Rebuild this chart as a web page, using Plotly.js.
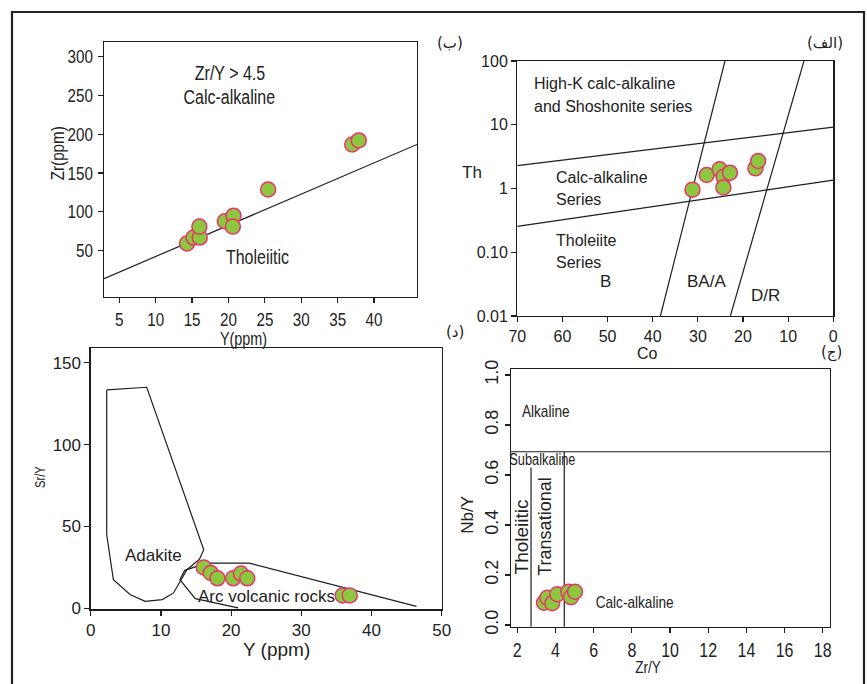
<!DOCTYPE html>
<html>
<head>
<meta charset="utf-8">
<script src="https://cdn.plot.ly/plotly-3.0.1.min.js"></script>
<style>html,body{margin:0;padding:0;background:#fff}#chart{width:867px;height:684px}</style>
</head>
<body>
<div id="chart"></div>
<script>
// ---------- Panel (ب): Zr vs Y ----------
const p1_Y  = [14.3, 15.2, 16.05, 16.0, 19.5, 20.7, 20.6, 25.45, 37.0, 37.9];
const p1_Zr = [59, 66.7, 66.7, 80.8, 87.7, 94.9, 80.8, 128.7, 186.8, 192];
const p1_lineY  = [2.9, 45.9];
const p1_lineZr = [13.7, 186.8];
const p1_xticks = [5, 10, 15, 20, 25, 30, 35, 40];
const p1_yticks = [50, 100, 150, 200, 250, 300];

// ---------- Panel (الف): Th vs Co ----------
const p2_Co = [31.2, 28.05, 25.2, 24.3, 22.9, 24.35, 17.25, 16.65];
const p2_Th = [0.96, 1.63, 2.0, 1.53, 1.77, 1.04, 2.07, 2.7];
const p2_upperCo = [70, 0];
const p2_upperTh = [2.28, 9.2];
const p2_lowerCo = [70, 0];
const p2_lowerTh = [0.255, 1.35];
const p2_steep1Co = [24.0, 38.3];
const p2_steep1Th = [100, 0.01];
const p2_steep2Co = [6.5, 22.8];
const p2_steep2Th = [100, 0.01];
const p2_xticks = [70, 60, 50, 40, 30, 20, 10, 0];
const p2_yticks = [0.01, 0.1, 1, 10, 100];
const p2_yticktext = ['0.01', '0.10', '1', '10', '100'];

// ---------- Panel (د): Sr/Y vs Y ----------
const p3_Y   = [16.1, 17.1, 18.06, 20.3, 21.4, 22.3, 35.9, 36.9];
const p3_SrY = [25, 21.6, 18.3, 18.3, 21.2, 18.3, 7.9, 7.9];
const p3_adakX = [2.28, 7.98, 16.1, 15.5, 13.7, 11.8, 10.2, 7.75, 5.6, 3.23, 2.28, 2.28];
const p3_adakY = [133.4, 135, 35.8, 30, 23.6, 9.4, 5.3, 4.3, 8.4, 17.5, 44.9, 133.4];
const p3_arcX = [21.0, 14.9, 12.7, 13.4, 15.1, 16.3, 22.6, 46.4];
const p3_arcY = [0.3, 5.9, 17.5, 23.2, 25.6, 27.6, 27.6, 1.2];
const p3_xticks = [0, 10, 20, 30, 40, 50];
const p3_yticks = [0, 50, 100, 150];

// ---------- Panel (ج): Nb/Y vs Zr/Y ----------
const p4_ZrY = [3.40, 3.57, 3.83, 4.09, 4.67, 4.81, 5.02];
const p4_NbY = [0.089, 0.109, 0.087, 0.123, 0.133, 0.111, 0.133];
const p4_hX = [1.67, 18.38];
const p4_hY = [0.693, 0.693];
const p4_v1X = [2.72, 2.72];
const p4_v1Y = [-0.01, 0.63];
const p4_v2X = [4.46, 4.46];
const p4_v2Y = [-0.01, 0.693];
const p4_xticks = [2, 4, 6, 8, 10, 12, 14, 16, 18];
const p4_yticks = [0.0, 0.2, 0.4, 0.6, 0.8, 1.0];

const W = 867, H = 684;
const px = v => v / W;
const py = v => 1 - v / H;

const NARROW = '"Liberation Sans Narrow", "Arial Narrow", "Liberation Sans", Arial, sans-serif';
const SANS = '"Liberation Sans", Arial, sans-serif';
const INK = '#1e1e1e';

const mk = {size: 15, color: '#8dc63f', line: {color: '#e8336b', width: 1.5}};
const ln = {color: INK, width: 1.2};

function L(x, y, xa, ya) {
  return {x: x, y: y, xaxis: xa, yaxis: ya, mode: 'lines', line: ln, hoverinfo: 'skip', showlegend: false};
}
function P(x, y, xa, ya) {
  return {x: x, y: y, xaxis: xa, yaxis: ya, mode: 'markers', type: 'scatter', marker: mk, showlegend: false};
}

const traces = [
  L(p1_lineY, p1_lineZr, 'x', 'y'),
  P(p1_Y, p1_Zr, 'x', 'y'),
  L(p2_upperCo, p2_upperTh, 'x2', 'y2'),
  L(p2_lowerCo, p2_lowerTh, 'x2', 'y2'),
  L(p2_steep1Co, p2_steep1Th, 'x2', 'y2'),
  L(p2_steep2Co, p2_steep2Th, 'x2', 'y2'),
  P(p2_Co, p2_Th, 'x2', 'y2'),
  L(p3_adakX, p3_adakY, 'x3', 'y3'),
  L(p3_arcX, p3_arcY, 'x3', 'y3'),
  P(p3_Y, p3_SrY, 'x3', 'y3'),
  L(p4_hX, p4_hY, 'x4', 'y4'),
  L(p4_v1X, p4_v1Y, 'x4', 'y4'),
  L(p4_v2X, p4_v2Y, 'x4', 'y4'),
  P(p4_ZrY, p4_NbY, 'x4', 'y4')
];

function ax(extra) {
  return Object.assign({
    showgrid: false, zeroline: false, showline: true, mirror: true,
    linecolor: INK, linewidth: 1.3, ticks: 'outside', ticklen: 5, tickwidth: 1.2,
    tickcolor: INK, tickmode: 'array', automargin: false
  }, extra);
}

const layout = {
  width: W, height: H,
  margin: {l: 0, r: 0, t: 0, b: 0},
  paper_bgcolor: '#fff', plot_bgcolor: '#fff',
  showlegend: false,
  xaxis: ax({domain: [px(104), px(417)], range: [2.9, 45.9], anchor: 'y', tickvals: p1_xticks,
             ticklabelstandoff: 0,
             tickfont: {family: NARROW, size: 19, color: '#222'}}),
  yaxis: ax({domain: [py(297), py(42)], range: [-10, 319], anchor: 'x', tickvals: p1_yticks,
             ticklabelstandoff: 1,
             tickfont: {family: NARROW, size: 19, color: '#222'}}),
  xaxis2: ax({domain: [px(517.3), px(833.3)], range: [70, 0], anchor: 'y2', tickvals: p2_xticks,
             tickfont: {family: SANS, size: 16, color: '#222'}}),
  yaxis2: ax({domain: [py(316), py(61)], type: 'log', range: [-2, 2], anchor: 'x2', tickvals: p2_yticks,
             ticktext: p2_yticktext, tickfont: {family: SANS, size: 16, color: '#222'}}),
  xaxis3: ax({domain: [px(90.7), px(441.7)], range: [0, 50], anchor: 'y3', tickvals: p3_xticks,
             ticklabelstandoff: 0,
             tickfont: {family: SANS, size: 17, color: '#222'}}),
  yaxis3: ax({domain: [py(609.3), py(348.3)], range: [-0.6, 158.8], anchor: 'x3', tickvals: p3_yticks,
             tickfont: {family: SANS, size: 17, color: '#222'}}),
  xaxis4: ax({domain: [px(511), px(830)], range: [1.67, 18.38], anchor: 'y4', tickvals: p4_xticks,
             ticklabelstandoff: 0,
             tickfont: {family: NARROW, size: 20, color: '#222'}}),
  yaxis4: ax({domain: [py(626.7), py(369.3)], range: [-0.007, 1.023], anchor: 'x4', tickvals: p4_yticks,
             tickformat: '.1f', tickangle: -90, tickfont: {family: SANS, size: 18, color: '#222'}}),
  shapes: [
    {type: 'rect', xref: 'paper', yref: 'paper', x0: px(12), x1: px(864), y0: -0.05, y1: py(12),
     line: {color: '#222', width: 2.2}}
  ],
  annotations: []
};

function T(text, x, y, xref, yref, font, extra) {
  layout.annotations.push(Object.assign({text: text, x: x, y: y, xref: xref, yref: yref,
    showarrow: false, font: font, xanchor: 'center', yanchor: 'middle'}, extra || {}));
}
const fN = s => ({family: NARROW, size: s, color: '#222'});
const fS = s => ({family: SANS, size: s, color: '#222'});
const fA = s => ({family: '"DejaVu Sans", "Noto Sans", sans-serif', size: s, color: '#222'});

// Panel 1 texts
T('Zr/Y &gt; 4.5', 20.2, 279.5, 'x', 'y', fN(20));
T('Calc-alkaline', 20.1, 248, 'x', 'y', fN(20));
T('Tholeiitic', 24.0, 41.5, 'x', 'y', fN(20));
T('Zr(ppm)', px(57), py(153), 'paper', 'paper', fN(19), {textangle: -90});
T('Y(ppm)', px(243), py(339), 'paper', 'paper', fN(18));

// Panel 2 texts
T('High-K calc-alkaline', 66.8, 1.65, 'x2', 'y2', fS(16), {xanchor: 'left'});
T('and Shoshonite series', 66.8, 1.294, 'x2', 'y2', fS(16), {xanchor: 'left'});
T('Calc-alkaline', 61.9, 0.165, 'x2', 'y2', fS(16), {xanchor: 'left'});
T('Series', 61.9, -0.18, 'x2', 'y2', fS(16), {xanchor: 'left'});
T('Tholeiite', 61.9, -0.808, 'x2', 'y2', fS(16), {xanchor: 'left'});
T('Series', 61.9, -1.153, 'x2', 'y2', fS(16), {xanchor: 'left'});
T('B', 50.4, -1.462, 'x2', 'y2', fS(17));
T('BA/A', 28, -1.462, 'x2', 'y2', fS(17));
T('D/R', 15, -1.686, 'x2', 'y2', fS(17));
T('Th', px(472.3), py(172.3), 'paper', 'paper', fS(17));
T('Co', px(647), py(353), 'paper', 'paper', fS(16));

// Panel 3 texts
T('Adakite', 9.0, 32.3, 'x3', 'y3', fS(17));
T('Arc volcanic rocks', 25.1, 7.3, 'x3', 'y3', fS(17));
T('Sr/Y', px(40), py(476.7), 'paper', 'paper', fN(14), {textangle: -90});
T('Y (ppm)', px(276.7), py(649), 'paper', 'paper', fS(19));

// Panel 4 texts
T('Alkaline', 3.5, 0.853, 'x4', 'y4', fN(17));
T('Subalkaline', 3.31, 0.664, 'x4', 'y4', fN(16));
T('Tholeiitic', 2.23, 0.353, 'x4', 'y4', fS(19), {textangle: -90});
T('Transational', 3.45, 0.393, 'x4', 'y4', fS(18), {textangle: -90});
T('Calc-alkaline', 8.16, 0.089, 'x4', 'y4', fN(17));
T('Nb/Y', px(466.7), py(515), 'paper', 'paper', fS(17), {textangle: -90});
T('Zr/Y', px(648.3), py(667), 'paper', 'paper', fN(17));

// Panel labels (Arabic)
T('(ب)', px(450), py(42.7), 'paper', 'paper', fA(15));
T('(الف)', px(825), py(42.7), 'paper', 'paper', fA(15));
T('(د)', px(455), py(331.7), 'paper', 'paper', fA(15));
T('(ج)', px(831.7), py(352.7), 'paper', 'paper', fA(15));

// condense the "narrow" labels horizontally (no narrow font is installed)
function condense() {
  document.querySelectorAll('#chart text').forEach(t => {
    const ff = t.getAttribute('style') || '';
    if (ff.indexOf('Narrow') >= 0) {
      t.removeAttribute('textLength');
      const w = t.getComputedTextLength();
      if (w > 0) {
        t.setAttribute('textLength', (w * 0.8).toFixed(1));
        t.setAttribute('lengthAdjust', 'spacingAndGlyphs');
      }
    }
  });
}

const gd = document.getElementById('chart');
Plotly.newPlot(gd, traces, layout, {staticPlot: true, displayModeBar: false}).then(() => {
  condense();
  gd.on('plotly_afterplot', condense);
  setTimeout(condense, 200);
});
</script>
</body>
</html>
